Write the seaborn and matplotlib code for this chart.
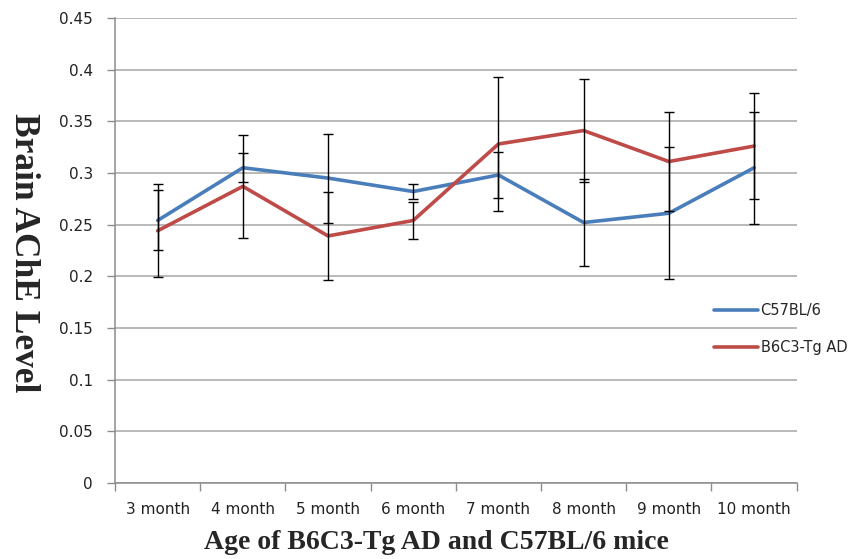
import matplotlib
matplotlib.use("Agg")
import matplotlib.pyplot as plt
import pandas as pd
import seaborn as sns

# Data
months = ["3 month", "4 month", "5 month", "6 month",
          "7 month", "8 month", "9 month", "10 month"]
c57 = [0.254, 0.305, 0.295, 0.282, 0.298, 0.252, 0.261, 0.305]
c57_err = [0.029, 0.014, 0.043, 0.007, 0.022, 0.042, 0.064, 0.054]
tg = [0.244, 0.287, 0.239, 0.254, 0.328, 0.341, 0.311, 0.326]
tg_err = [0.045, 0.050, 0.043, 0.018, 0.065, 0.050, 0.048, 0.051]
strains = ["C57BL/6", "B6C3-Tg AD"]

df = pd.DataFrame({
    "month": months * 2,
    "level": c57 + tg,
    "strain": [strains[0]] * len(months) + [strains[1]] * len(months),
})

sns.set_style("white")
colors = {"C57BL/6": "#4A7EBB", "B6C3-Tg AD": "#BE4B48"}

fig = plt.figure(figsize=(8.65, 5.59), dpi=100)
ax = fig.add_axes([0.133, 0.136, 0.788, 0.832])

sns.lineplot(data=df, x="month", y="level", hue="strain", palette=colors,
             sort=False, linewidth=2.6, ax=ax, zorder=2)

# error bars on top of the lines
for vals, errs in [(c57, c57_err), (tg, tg_err)]:
    ax.errorbar(months, vals, yerr=errs, fmt="none", ecolor="black",
                elinewidth=1.0, capsize=3.6, capthick=1.0, zorder=3)

ax.set_xlim(-0.5, len(months) - 0.5)
ax.set_ylim(0, 0.45)
ax.set_yticks([i * 0.05 for i in range(10)])
ax.set_yticklabels(["0", "0.05", "0.1", "0.15", "0.2", "0.25", "0.3",
                    "0.35", "0.4", "0.45"])
ax.yaxis.grid(True, color="#a6a6a6", linewidth=1.1)
ax.set_axisbelow(True)

# x ticks between categories, labels at centres
ax.set_xticks(range(len(months)))
ax.set_xticklabels(months)
ax.set_xticks([i - 0.5 for i in range(len(months) + 1)], minor=True)
ax.tick_params(axis="x", which="major", length=0, pad=14, labelsize=11,
               labelcolor="#222222")
ax.tick_params(axis="x", which="minor", length=6, width=1, color="#8c8c8c",
               direction="out", bottom=True)
ax.tick_params(axis="y", length=6, width=1, color="#8c8c8c", direction="out",
               left=True, labelsize=11, labelcolor="#222222", pad=10)

for s in ["top", "right"]:
    ax.spines[s].set_visible(False)
for s in ["left", "bottom"]:
    ax.spines[s].set_color("#8c8c8c")
    ax.spines[s].set_linewidth(1.1)

ax.set_xlabel("Age of B6C3-Tg AD and C57BL/6 mice", family="Liberation Serif",
              fontweight="bold", fontsize=20)
ax.xaxis.set_label_coords(0.472, -0.102)
ax.set_ylabel("Brain AChE Level", family="Liberation Serif",
              fontweight="bold", fontsize=25.5, rotation=270, va="center")
ax.yaxis.set_label_coords(-0.135, 0.495)

ax.legend(loc="upper left", bbox_to_anchor=(0.87, 0.40), frameon=False,
          fontsize=10.5, handlelength=3.0, labelspacing=1.5, handletextpad=0.2,
          borderaxespad=0)

plt.savefig("out.png", dpi=100)
